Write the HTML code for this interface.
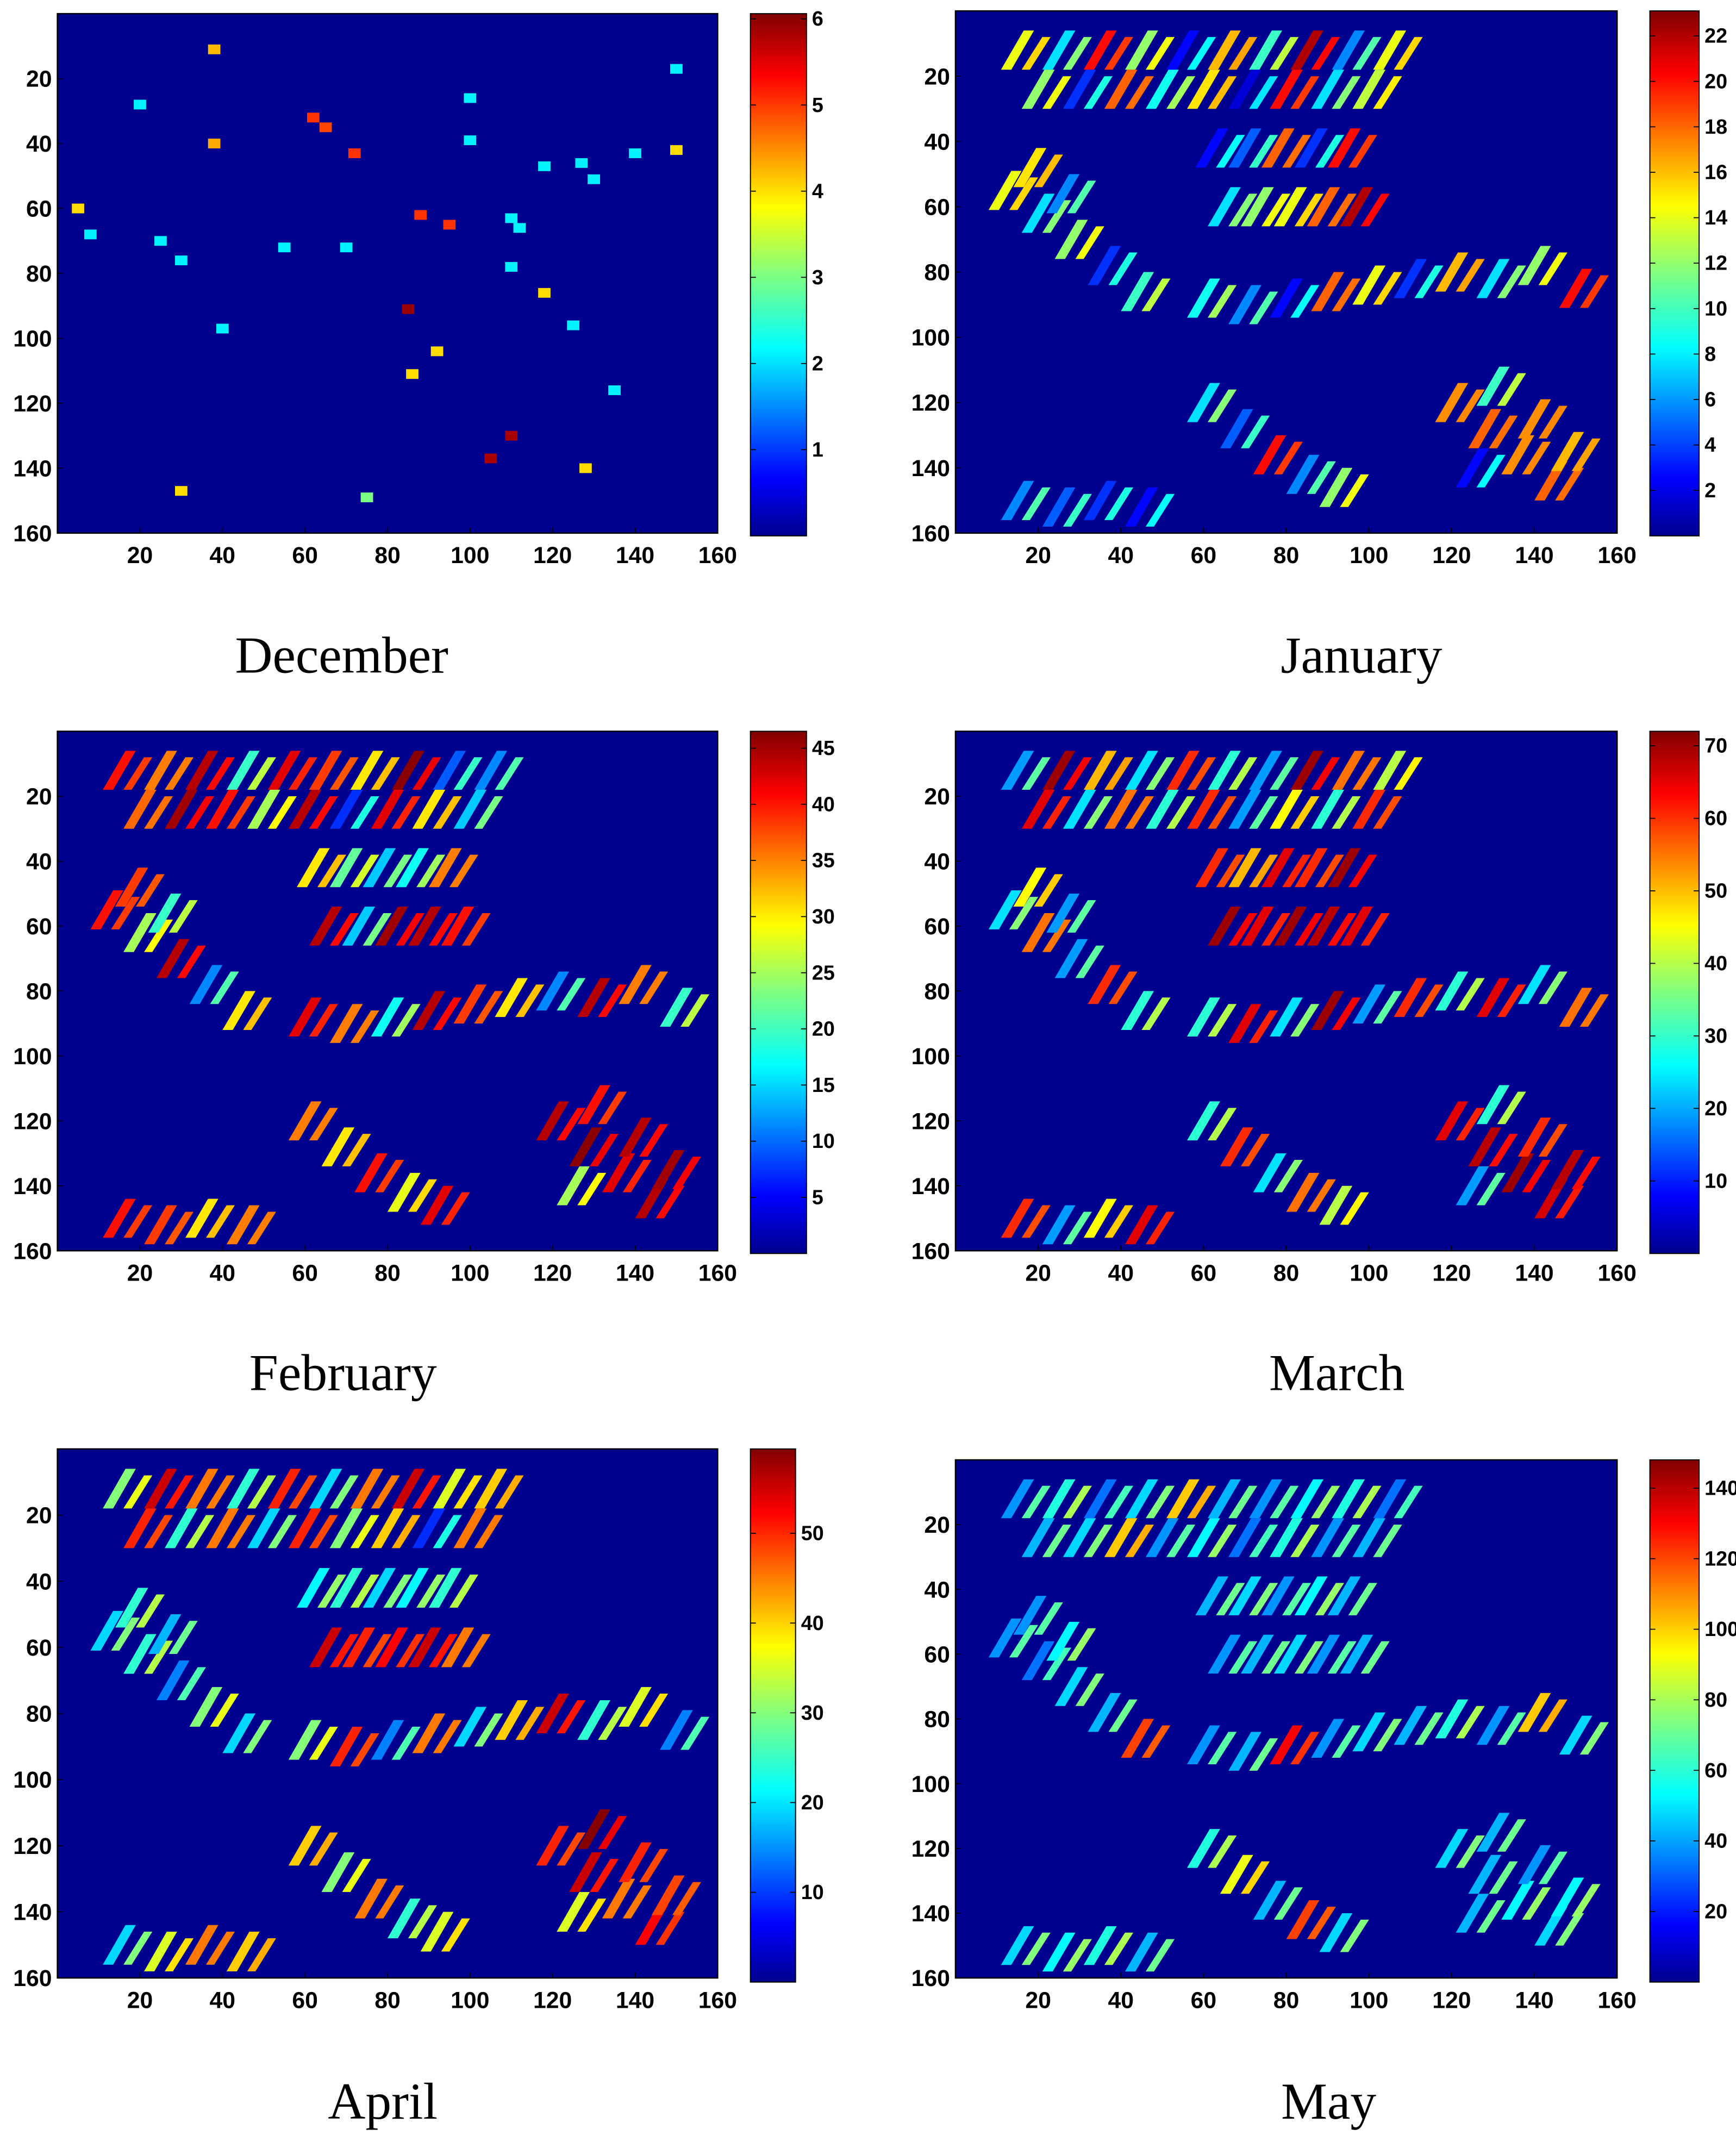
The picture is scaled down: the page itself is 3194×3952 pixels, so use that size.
<!DOCTYPE html>
<html><head><meta charset="utf-8"><style>
html,body{margin:0;padding:0;background:#fff;}
svg{display:block;}
.tk{font-family:"Liberation Sans",sans-serif;font-weight:bold;font-size:17px;fill:#000;}
.cbt{font-family:"Liberation Sans",sans-serif;font-weight:bold;font-size:15px;fill:#000;}
.ttl{font-family:"Liberation Serif",serif;font-size:38px;fill:#000;}
</style></head><body>
<svg id="fig" width="3194" height="3952" viewBox="0 0 1270 1571.4" preserveAspectRatio="none" xmlns="http://www.w3.org/2000/svg">
<defs>
<linearGradient id="jet" x1="0" y1="1" x2="0" y2="0">
<stop offset="0" stop-color="#00008f"/><stop offset="0.11" stop-color="#0000ff"/><stop offset="0.36" stop-color="#00ffff"/><stop offset="0.5" stop-color="#80ff80"/><stop offset="0.63" stop-color="#ffff00"/><stop offset="0.88" stop-color="#ff0000"/><stop offset="1" stop-color="#800000"/>
</linearGradient>
</defs>
</svg>
<script>
// shared field-stripe positions (data coords: column, row)
const stripeX=[15,25,35,45,55,65,75,85,95,105, 20,30,40,50,60,70,80,90,100, 62,70,78,86,94,65,73,81,89,97, 12,20,28,36,44,18,26, 60,70,80,90,100,110,120,130,140,150, 120,128,136,144,130,140,148,125, 15,25,35,45, 60,68,76,84,92];
const stripeY=[12,12,12,12,12,12,12,12,12,12, 24,24,24,24,24,24,24,24,24, 42,42,42,42,42,60,60,60,60,60, 55,62,70,78,86,48,56, 88,90,88,86,84,82,80,82,78,85, 120,128,136,144,115,125,135,140, 150,152,150,152, 120,128,136,142,146];
const janV=[14,8,20,12,3,16,10,22,6,14, 12,4,18,9,15,2,20,8,13, 3,5,18,4,20,8,12,14,18,22, 14,8,12,4,10,15,6, 9,6,3,18,14,4,16,8,12,20, 17,18,17,18,10,17,16,3, 6,5,4,3, 8,5,20,6,12];
const febV=[40,35,44,20,42,38,30,46,10,12, 36,45,40,25,44,8,42,30,15, 30,22,15,18,35,44,15,45,44,40, 40,25,44,12,30,38,20, 42,35,18,44,38,30,12,44,35,20, 44,46,42,44,40,44,45,25, 40,38,30,35, 35,30,40,28,42];
const marV=[20,70,50,25,60,30,20,70,55,40, 65,25,55,30,60,20,45,30,60, 60,50,65,60,70,70,65,70,68,65, 25,55,20,60,30,45,20, 30,65,25,70,20,60,30,65,25,55, 65,68,70,66,30,60,68,20, 60,20,45,65, 30,60,25,55,40];
const aprV=[30,55,45,25,50,20,45,55,35,40, 50,25,45,20,50,30,40,10,45, 22,25,20,22,25,55,50,52,55,45, 20,25,15,30,20,25,18, 30,50,15,45,20,40,55,25,35,15, 50,55,45,52,59,50,48,35, 20,35,45,40, 40,30,45,25,35];
const mayV=[40,60,35,50,100,45,40,55,60,35, 45,50,100,40,55,35,60,40,45, 45,50,40,55,45,40,45,50,40,45, 40,35,50,45,120,40,55, 40,45,130,40,50,45,60,40,100,50, 50,45,55,50,45,40,55,45, 50,55,60,45, 60,90,45,120,50];
// December speckles
const decX=[38,65,72,88,95,110,30,25,40,70,92,110,118,125,140,150,75,30,110,118,5,100,135,85,105,38,62,55,127,150,8,20,100,86,112,130,128];
const decY=[40,35,43,62,65,63,76,70,97,72,104,78,86,96,43,17,149,147,130,47,60,39,116,91,137,11,32,72,46,42,68,28,26,111,66,51,140];
const decV=[4.3,4.9,5,5,5,2.2,2.2,2.2,2.2,2.2,4,2.2,4,2.2,2.2,2.2,3,4,5.8,2.2,4,2.2,2.2,5.9,5.8,4.2,5,2.2,2.2,4,2.2,2.2,2.2,4,2.2,2.2,4];
const ticks={dec:[1,2,3,4,5,6],jan:[2,4,6,8,10,12,14,16,18,20,22],feb:[5,10,15,20,25,30,35,40,45],mar:[10,20,30,40,50,60,70],apr:[10,20,30,40,50],may:[20,40,60,80,100,120,140]};
const axTicks=[20,40,60,80,100,120,140,160];

const NS='http://www.w3.org/2000/svg';
const svg=document.getElementById('fig');
function mk(tag,attrs,parent){const e=document.createElementNS(NS,tag);for(const k in attrs)e.setAttribute(k,attrs[k]);(parent||svg).appendChild(e);return e;}
function jet(t){t=Math.max(0,Math.min(1,t));const f=x=>Math.round(255*Math.max(0,Math.min(1,x)));
 const r=f(Math.min(4*t-1.5,-4*t+4.5)),g=f(Math.min(4*t-0.5,-4*t+3.5)),b=f(Math.min(4*t+0.5,-4*t+2.5));return `rgb(${r},${g},${b})`;}

const panels=[
 {n:'december',px:42,py:10,pw:483,ph:380,cx:549,cw:41,cy:10,ch:382,vmax:6.06,tk:ticks.dec,title:'December',tx:250,ty:492,dots:true},
 {n:'january',px:699,py:8,pw:484,ph:382,cx:1207,cw:36,cy:8,ch:384,vmax:23.1,tk:ticks.jan,title:'January',tx:996,ty:492,vals:janV},
 {n:'february',px:42,py:535,pw:483,ph:380,cx:549,cw:41,cy:535,ch:382,vmax:46.5,tk:ticks.feb,title:'February',tx:251,ty:1017,vals:febV},
 {n:'march',px:699,py:535,pw:484,ph:380,cx:1207,cw:36,cy:535,ch:382,vmax:72,tk:ticks.mar,title:'March',tx:978,ty:1017,vals:marV},
 {n:'april',px:42,py:1060,pw:483,ph:387,cx:549,cw:33,cy:1060,ch:390,vmax:59.4,tk:ticks.apr,title:'April',tx:280,ty:1550,vals:aprV},
 {n:'may',px:699,py:1068,pw:484,ph:379,cx:1207,cw:36,cy:1068,ch:382,vmax:148,tk:ticks.may,title:'May',tx:972,ty:1550,vals:mayV}
];
panels.forEach(p=>{
 const g=mk('g',{});
 
 
 const sx=v=>p.px+v/160*p.pw, sy=v=>p.py+v/160*p.ph;
 const bg=mk('rect',{x:p.px,y:p.py,width:p.pw,height:p.ph,fill:'#00008f',stroke:'#000','stroke-width':1},g);
 
 
 const cid='clip-'+p.n;
 const cp=mk('clipPath',{id:cid},g);mk('rect',{x:p.px,y:p.py,width:p.pw,height:p.ph},cp);
 const marks=mk('g',{'clip-path':`url(#${cid})`},g);
 if(p.dots){
  decX.forEach((x,i)=>{const r=mk('rect',{x:sx(x-1.5),y:sy(decY[i]-1.5),width:sx(3)-sx(0),height:sy(3)-sy(0),fill:jet(decV[i]/p.vmax)},marks);
   
   });
 } else {
  stripeX.forEach((x,i)=>{const v=p.vals[i];if(!v)return;const y=stripeY[i];
   const pts=[[x-4,y+6],[x-1.5,y+6],[x+4,y-6],[x+1.5,y-6]].map(q=>sx(q[0])+','+sy(q[1])).join(' ');
   const s=mk('polygon',{points:pts,fill:jet(v/p.vmax)},marks);
   
   
   const pts2=[[x+1,y+6],[x+3,y+6],[x+8,y-4],[x+6,y-4]].map(q=>sx(q[0])+','+sy(q[1])).join(' ');
   const s2=mk('polygon',{points:pts2,fill:jet(((v*0.6+p.vmax*0.3)%p.vmax)/p.vmax)},marks);
   
   });
 }
 axTicks.forEach(t=>{
  const xl=mk('text',{x:sx(t),y:p.py+p.ph+22,'text-anchor':'middle',class:'tk'},g);xl.textContent=t;
  
  
  const yl=mk('text',{x:p.px-4,y:sy(t)+6,'text-anchor':'end',class:'tk'},g);yl.textContent=t;
  
  
  mk('line',{x1:sx(t),x2:sx(t),y1:p.py+p.ph,y2:p.py+p.ph-4,stroke:'#000','stroke-width':0.7},g);
  mk('line',{x1:p.px,x2:p.px+4,y1:sy(t),y2:sy(t),stroke:'#000','stroke-width':0.7},g);
 });
 const cb=mk('rect',{x:p.cx,y:p.cy,width:p.cw,height:p.ch,fill:'url(#jet)',stroke:'#000','stroke-width':0.8},g);
 
 
 p.tk.forEach(t=>{const y=p.cy+p.ch*(1-t/p.vmax);
  mk('line',{x1:p.cx,x2:p.cx+4,y1:y,y2:y,stroke:'#000','stroke-width':0.7},g);
  mk('line',{x1:p.cx+p.cw-4,x2:p.cx+p.cw,y1:y,y2:y,stroke:'#000','stroke-width':0.7},g);
  const l=mk('text',{x:p.cx+p.cw+4,y:y+5,class:'cbt'},g);l.textContent=t;
  
  });
 const tt=mk('text',{x:p.tx,y:p.ty,'text-anchor':'middle',class:'ttl'},g);tt.textContent=p.title;
 
 
});
</script>
</body></html>
